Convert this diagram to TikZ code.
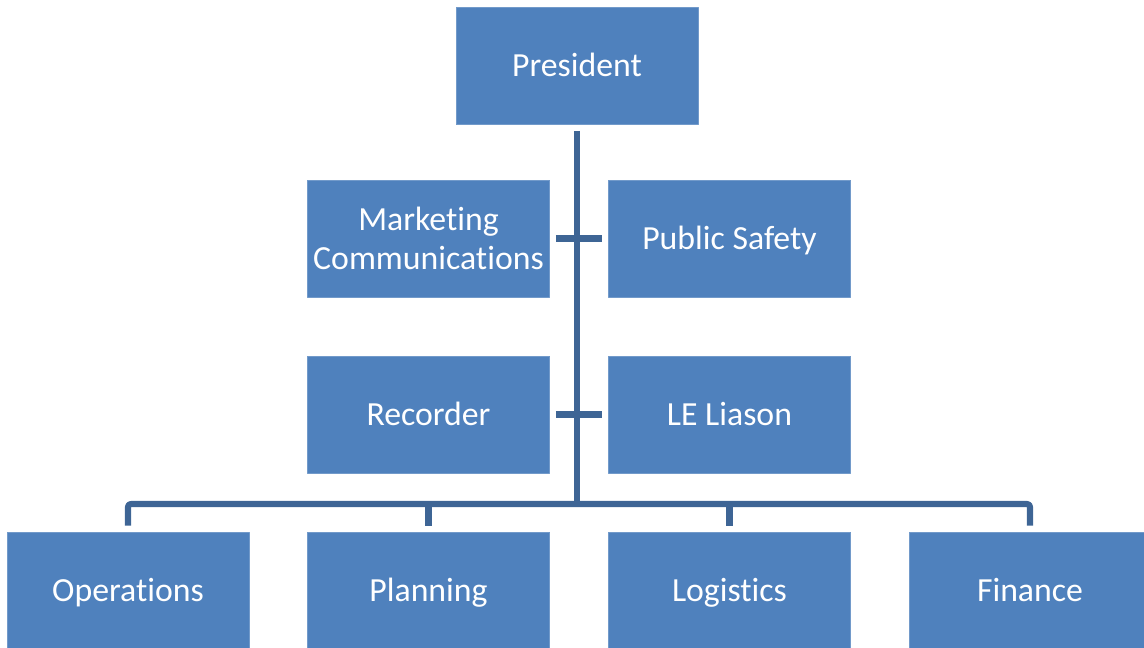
\documentclass[tikz,border=0pt]{standalone}
\usepackage{fontspec}
\setmainfont[RawFeature={-liga}]{Carlito}
\definecolor{boxblue}{HTML}{4F81BD}
\definecolor{lineblue}{HTML}{3E6595}
\begin{document}
\begin{tikzpicture}[x=0.025cm,y=-0.025cm,line join=round,
	box/.style={rectangle,fill=boxblue,draw=boxblue!80!white,line width=0.4pt,
		minimum width=6.05cm,minimum height=2.925cm,inner sep=0pt,
		text=white,align=center,font=\fontsize{24}{28}\selectfont},
	boxone/.style={box,text height=21.4pt,text depth=6pt},
	link/.style={draw=lineblue,line width=4.3pt}]
		\def\g{6}%khoảng hở giữa đường nối và hộp
		\useasboundingbox (0,0) rectangle (1144,647);
		\clip (0,0) rectangle (1144,647);
		%========hộp trên cùng
		\node[boxone] (pres) at (577,66) {President};
		%========hai hàng trợ lý
		\node[box] (mark) at (428.5,238.5) {Marketing\\Communications};
		\node[boxone] (safe) at (729.5,238.5) {Public Safety};
		\node[boxone] (rec) at (428.5,414.5) {Recorder};
		\node[boxone] (le) at (729.5,414.5) {LE Liason};
		%========hàng dưới cùng
		\node[boxone] (ops) at (128,590.5) {Operations};
		\node[boxone] (plan) at (428.5,590.5) {Planning};
		\node[boxone] (log) at (729.5,590.5) {Logistics};
		\node[boxone] (fin) at (1030,590.5) {Finance};
		\coordinate (bar) at (577,504);
		%========đường nối
		\draw[link] ([yshift=-\g*0.025cm]pres.south) -- (bar);
		\draw[link]
		([xshift=\g*0.025cm]mark.east) -- ([xshift=-\g*0.025cm]safe.west)
		([xshift=\g*0.025cm]rec.east) -- ([xshift=-\g*0.025cm]le.west);
		\draw[link,rounded corners=2pt]
		([yshift=\g*0.025cm]ops.north) |- (bar) -| ([yshift=\g*0.025cm]fin.north);
		\draw[link]
		([yshift=\g*0.025cm]plan.north) -- (plan.north |- bar)
		([yshift=\g*0.025cm]log.north) -- (log.north |- bar);
\end{tikzpicture}
\end{document}
